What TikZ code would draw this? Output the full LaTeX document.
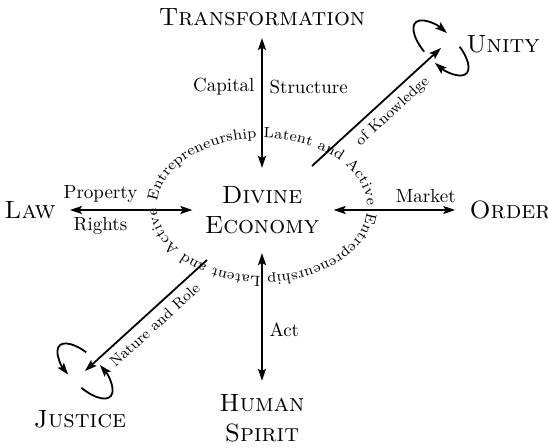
\documentclass[tikz,border=0pt]{standalone}
\usepackage{amsmath,amssymb}
\usepackage{xcolor}
\usepackage{tikz}
\usetikzlibrary{arrows.meta,decorations.text,calc}

\begin{document}
\begin{tikzpicture}[x=0.5pt, y=0.5pt,
    pole/.style={font=\fontsize{12.5}{15}\selectfont\scshape, align=center, inner sep=0pt},
    lbl/.style={font=\fontsize{9.5}{11}\selectfont},
    slab/.style={font=\fontsize{7.5}{9}\selectfont, sloped},
    tip/.tip={Stealth[length=6pt, width=4pt, inset=1.2pt]},
    flow/.style={line width=0.9pt, tip-tip},
    oneway/.style={line width=0.9pt, -tip},
    ring/.style={decorate, decoration={text along path, text align=center,
        text={|\fontsize{7.4}{9}\selectfont|#1}}}
  ]
    \useasboundingbox (-262,-238) rectangle (286,210);
    \coordinate (ECC) at (0, 3);
    \coordinate (NEfoot) at (50, 44);
    \coordinate (NEloop) at (179, 162);
    \coordinate (SWfoot) at (-55, -50);
    \coordinate (SWloop) at (-177, -161);
    \node[pole] (DE) at (0, 0) {Divine\\Economy};
    \node[pole] (TR) at (0, 193) {Transformation};
    \node[pole] (HS) at (0, -208) {Human\\Spirit};
    \node[pole] (LW) at (-232, 0) {Law};
    \node[pole] (OR) at (248, 0) {Order};
    \node[pole] (UN) at (241, 166) {Unity};
    \node[pole] (JU) at (-182, -209) {Justice};
    \draw[flow, shorten <=6pt, shorten >=9pt] (TR) -- (DE)
        node[lbl, left, pos=0.38] {Capital} node[lbl, right, pos=0.38] {Structure};
    \draw[flow, shorten <=9.5pt, shorten >=6.5pt] (DE) -- (HS)
        node[lbl, right, pos=0.6] {Act};
    \draw[flow, shorten <=7pt, shorten >=6pt] (LW) -- (DE)
        node[lbl, above, pos=0.3] {Property} node[lbl, below, pos=0.3] {Rights};
    \draw[flow, shorten <=7pt, shorten >=7pt] (DE) -- (OR)
        node[lbl, above, pos=0.71] {Market};
    \draw[oneway] (NEfoot) -- (NEloop) node[slab, below, pos=0.55] {of Knowledge};
    \draw[oneway] (SWfoot) -- (SWloop) node[slab, below, pos=0.5] {Nature and Role};
    \draw[oneway, shift={(NEloop)}, rotate=-45] (255:36 and 15)
        arc[start angle=255, end angle=100, x radius=36, y radius=15];
    \draw[oneway, shift={(NEloop)}, rotate=-45] (70:36 and 15)
        arc[start angle=70, end angle=-80, x radius=36, y radius=15];
    \draw[oneway, shift={(SWloop)}, rotate=-45] (110:36 and 15)
        arc[start angle=110, end angle=255, x radius=36, y radius=15];
    \draw[oneway, shift={(SWloop)}, rotate=-45] (285:36 and 15)
        arc[start angle=285, end angle=440, x radius=36, y radius=15];
    \path[ring={Latent and Active}] (ECC) ++(270:105 and 69)
        arc[start angle=270, end angle=180, x radius=105, y radius=69];
    \path[ring={Entrepreneurship}] (ECC) ++(180:105 and 69)
        arc[start angle=180, end angle=90, x radius=105, y radius=69];
    \path[ring={Latent and Active}] (ECC) ++(90:105 and 69)
        arc[start angle=90, end angle=0, x radius=105, y radius=69];
    \path[ring={Entrepreneurship}] (ECC) ++(0:105 and 69)
        arc[start angle=0, end angle=-90, x radius=105, y radius=69];
\end{tikzpicture}
\end{document}
